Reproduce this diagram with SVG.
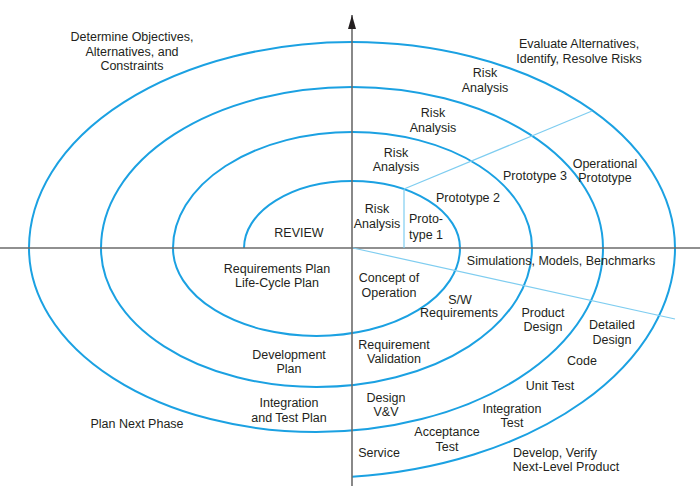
<svg xmlns="http://www.w3.org/2000/svg" width="700" height="488" viewBox="0 0 700 488">
<style>
.arc{fill:none;stroke:#1ba1e2;stroke-width:2}
.thin{fill:none;stroke:#7fcdf0;stroke-width:1.2}
.axis{fill:none;stroke:#6b6b6b;stroke-width:1.6}
text{font-family:"Liberation Sans",Arial,sans-serif;font-size:12.5px;fill:#231f20;text-anchor:middle}
</style>
<defs>
<marker id="arrow" viewBox="0 0 14 8" refX="14" refY="4" markerWidth="14" markerHeight="8" markerUnits="userSpaceOnUse" orient="auto">
<path d="M0,0 L14,4 L0,8 Z" fill="#231f20"/>
</marker>
</defs>
<rect width="700" height="488" fill="#ffffff"/>
<g id="spiral">
<path class="arc" d="M244,248 A108,67 0 0 1 460,248"/>
<path class="arc" d="M460,248 A143.5,88 0 0 1 173,248"/>
<path class="arc" d="M173,248 A179.5,116 0 0 1 532,248"/>
<path class="arc" d="M532,248 A215.5,139 0 0 1 101,248"/>
<path class="arc" d="M101,248 A251,161 0 0 1 603,248"/>
<path class="arc" d="M603,248 A287,184 0 0 1 29,248"/>
<path class="arc" d="M29,248 A323,206 0 0 1 675,248"/>
<path class="arc" d="M675,248 A359,230 0 0 1 352,476.8"/>
</g>
<g id="connectors">
<line class="axis" x1="0" y1="248" x2="700" y2="248"/>
<line class="axis" x1="352" y1="486" x2="352" y2="15" marker-end="url(#arrow)"/>
<line class="thin" x1="404" y1="248" x2="404" y2="189"/>
<line class="thin" x1="404" y1="189" x2="592" y2="111"/>
<line class="thin" x1="353" y1="248" x2="675" y2="319"/>
</g>
<g id="quadrant-objectives">
<text x="132" y="41">Determine Objectives,</text>
<text x="132" y="56">Alternatives, and</text>
<text x="132" y="70">Constraints</text>
<text x="299" y="237">REVIEW</text>
</g>
<g id="quadrant-risks">
<text x="579" y="48">Evaluate Alternatives,</text>
<text x="579" y="63">Identify, Resolve Risks</text>
<text x="485" y="77">Risk</text>
<text x="485" y="92">Analysis</text>
<text x="433" y="117">Risk</text>
<text x="433" y="132">Analysis</text>
<text x="396" y="157">Risk</text>
<text x="396" y="171">Analysis</text>
<text x="377" y="213">Risk</text>
<text x="377" y="228">Analysis</text>
<text x="426" y="223">Proto-</text>
<text x="426" y="239">type 1</text>
<text x="468" y="202">Prototype 2</text>
<text x="535" y="180">Prototype 3</text>
<text x="605" y="168">Operational</text>
<text x="605" y="182">Prototype</text>
</g>
<g id="quadrant-plan">
<text x="277" y="273">Requirements Plan</text>
<text x="277" y="287">Life-Cycle Plan</text>
<text x="289" y="359">Development</text>
<text x="289" y="373">Plan</text>
<text x="289" y="407">Integration</text>
<text x="289" y="422">and Test Plan</text>
<text x="137" y="428">Plan Next Phase</text>
</g>
<g id="quadrant-develop">
<text x="561" y="265">Simulations, Models, Benchmarks</text>
<text x="389" y="282">Concept of</text>
<text x="389" y="297">Operation</text>
<text x="460" y="304">S/W</text>
<text x="459" y="317">Requirements</text>
<text x="543" y="317">Product</text>
<text x="543" y="331">Design</text>
<text x="612" y="329">Detailed</text>
<text x="612" y="344">Design</text>
<text x="394" y="349">Requirement</text>
<text x="394" y="363">Validation</text>
<text x="582" y="365">Code</text>
<text x="550" y="390">Unit Test</text>
<text x="386" y="402">Design</text>
<text x="386" y="416">V&amp;V</text>
<text x="512" y="413">Integration</text>
<text x="512" y="427">Test</text>
<text x="447" y="436">Acceptance</text>
<text x="447" y="451">Test</text>
<text x="379" y="457">Service</text>
<text x="555" y="457">Develop, Verify</text>
<text x="566" y="471">Next-Level Product</text>
</g>
</svg>
